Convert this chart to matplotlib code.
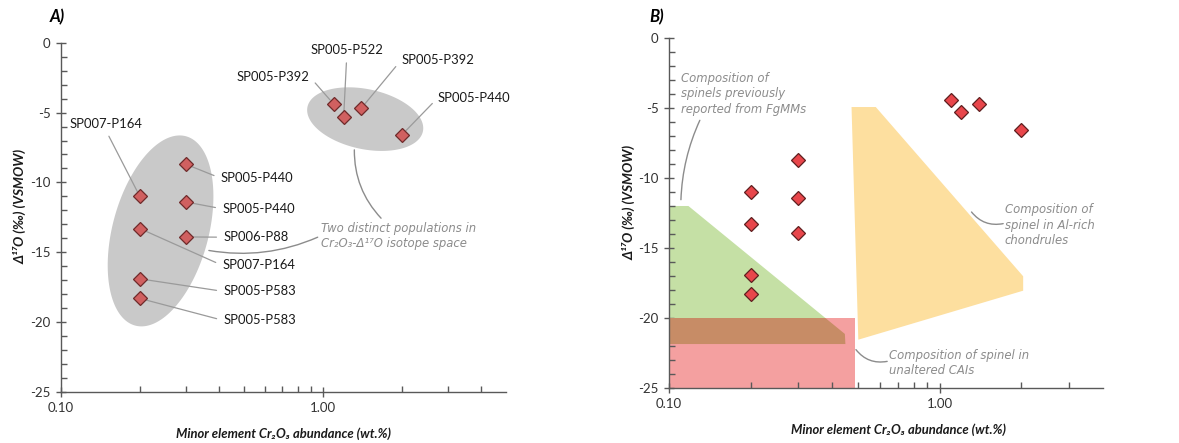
import numpy as np
import matplotlib
matplotlib.use("Agg")
import matplotlib.pyplot as plt
from matplotlib.ticker import FixedLocator, FuncFormatter, NullFormatter
from matplotlib.patches import Polygon, Rectangle

plt.rcParams["font.family"] = ["Lato", "DejaVu Sans"]
plt.rcParams["axes.unicode_minus"] = False

# Spinel grains: Cr2O3 content (wt.%) and Δ17O (‰, VSMOW)
cr2o3 = [0.2, 0.2, 0.2, 0.2, 0.3, 0.3, 0.3, 1.1, 1.2, 1.4, 2.0]
d17o = [-11.0, -13.3, -16.9, -18.3, -8.7, -11.4, -13.9, -4.4, -5.3, -4.7, -6.6]
grain_ids = ["SP007-P164", "SP007-P164", "SP005-P583", "SP005-P583",
             "SP005-P440", "SP005-P440", "SP006-P88",
             "SP005-P392", "SP005-P522", "SP005-P392", "SP005-P440"]

# Literature composition fields (Cr2O3 wt.%, Δ17O ‰)
fgmm_cr = [0.1, 0.118, 0.446, 0.448, 0.1]
fgmm_d17o = [-12.0, -12.0, -21.14, -21.86, -21.86]
chondrule_cr = [0.472, 0.58, 2.03, 2.03, 0.50]
chondrule_d17o = [-4.93, -4.93, -17.02, -18.05, -21.55]
cai_cr = [0.1, 0.485]
cai_d17o = [-25.0, -20.0]

# label placement for the grain ids (data coords, alignment)
label_pos = [(0.148, -5.8, "center"), (0.413, -15.94, "left"),
             (0.417, -17.8, "left"), (0.417, -19.88, "left"),
             (0.407, -9.7, "left"), (0.413, -11.89, "left"),
             (0.417, -13.92, "left"),
             (0.89, -2.43, "right"), (1.233, -0.52, "center"),
             (1.99, -1.24, "left"), (2.75, -3.93, "left")]

AX_COL = "#595959"
NOTE_COL = "#8c8c8c"
NOTE_FONT = dict(family="DejaVu Sans", style="italic", color=NOTE_COL, fontsize=8.4)


def style_axes(ax, xmax):
    ax.set_xscale("log")
    ax.set_xlim(0.1, xmax)
    ax.set_ylim(-25, 0)
    for s in ("top", "right"):
        ax.spines[s].set_visible(False)
    for s in ("left", "bottom"):
        ax.spines[s].set_color(AX_COL)
        ax.spines[s].set_linewidth(1.0)
    ax.xaxis.set_major_locator(FixedLocator([0.1, 1.0]))
    ax.xaxis.set_minor_locator(FixedLocator(
        [v for v in [0.2, 0.3, 0.4, 0.5, 0.6, 0.7, 0.8, 0.9, 2, 3, 4, 5] if v < xmax]))
    ax.xaxis.set_major_formatter(FuncFormatter(lambda v, p: f"{v:.2f}"))
    ax.xaxis.set_minor_formatter(NullFormatter())
    ax.yaxis.set_major_locator(FixedLocator(np.arange(-25, 1, 5)))
    ax.yaxis.set_minor_locator(FixedLocator(np.arange(-25, 1, 1)))
    ax.yaxis.set_major_formatter(FuncFormatter(lambda v, p: f"{v:.0f}"))
    ax.tick_params(which="major", direction="inout", length=7, width=1,
                   color=AX_COL, labelcolor="#333333", labelsize=9.5, pad=4)
    ax.tick_params(which="minor", direction="in", length=4, width=1, color=AX_COL)
    ax.set_xlabel("Minor element Cr₂O₃ abundance (wt.%)", fontsize=9.4,
                  fontweight="bold", style="italic", color="#1a1a1a")
    ax.set_ylabel("Δ¹⁷O (‰) (VSMOW)", fontsize=9.8,
                  fontweight="bold", style="italic", color="#1a1a1a")


def fill_ellipse(ax, centre, semi_major, semi_minor, angle, **kw):
    # ellipse defined in screen pixels so it stays round on the log axis
    cx, cy = ax.transData.transform(centre)
    t = np.linspace(0, 2 * np.pi, 240)
    a = np.deg2rad(angle)
    px = cx + semi_major * np.cos(t) * np.cos(a) - semi_minor * np.sin(t) * np.sin(a)
    py = cy + semi_major * np.cos(t) * np.sin(a) + semi_minor * np.sin(t) * np.cos(a)
    pts = ax.transData.inverted().transform(np.column_stack([px, py]))
    ax.fill(pts[:, 0], pts[:, 1], color="#c9c9c9", lw=0, zorder=1, **kw)


def connector(ax, start, end, rad):
    ax.annotate("", xy=end, xytext=start,
                arrowprops=dict(arrowstyle="-", color="#8c8c8c", lw=1.0,
                                connectionstyle=f"arc3,rad={rad}",
                                shrinkA=0, shrinkB=0))


fig = plt.figure(figsize=(11.79, 4.43), dpi=100)
ax_a = fig.add_axes([0.0517, 0.1151, 0.3775, 0.7885])
ax_b = fig.add_axes([0.5674, 0.1242, 0.3681, 0.7900])

# ---- panel A: grains grouped into two populations ----
style_axes(ax_a, 5.0)
fill_ellipse(ax_a, (0.24, -13.47), 98, 48, 75)
fill_ellipse(ax_a, (1.45, -5.47), 59, 30, -12)

for x, y, name, (tx, ty, ha) in zip(cr2o3, d17o, grain_ids, label_pos):
    rel = {"left": (0, 0.5), "right": (1, 0.5), "center": (0.5, 0)}[ha]
    ax_a.annotate(name, xy=(x, y), xytext=(tx, ty), ha=ha, va="center",
                  fontsize=9.4, color="#1a1a1a",
                  arrowprops=dict(arrowstyle="-", color="#9a9a9a", lw=0.9,
                                  relpos=rel, shrinkA=3, shrinkB=4))
ax_a.plot(cr2o3, d17o, "D", ms=6.8, mfc="#d06060", mec="#6e2a2a", mew=0.9,
          ls="none", zorder=5)

ax_a.text(0.98, -13.85, "Two distinct populations in\nCr₂O₃-Δ¹⁷O isotope space",
          ha="left", va="center", linespacing=1.15, **NOTE_FONT)
connector(ax_a, (1.318, -7.67), (1.667, -12.56), 0.2)
connector(ax_a, (0.367, -14.87), (0.955, -13.92), 0.15)

ax_a.yaxis.set_label_coords(-0.078, 0.53)
ax_a.xaxis.set_label_coords(0.5, -0.1)
fig.text(0.042, 0.962, "A)", fontsize=12, fontweight="bold", style="italic",
         va="center")

# ---- panel B: grains against literature composition fields ----
style_axes(ax_b, 4.0)
green = Polygon(np.column_stack([fgmm_cr, fgmm_d17o]), closed=True,
                fc="#c5e0a5", ec="none", zorder=1)
ax_b.add_patch(green)
cai = Rectangle((cai_cr[0], cai_d17o[0]), cai_cr[1] - cai_cr[0],
                cai_d17o[1] - cai_d17o[0], fc="#f4a0a0", ec="none", zorder=1)
ax_b.add_patch(cai)
overlap = Polygon(np.column_stack([fgmm_cr, fgmm_d17o]), closed=True,
                  fc="#c78c66", ec="none", zorder=2)
ax_b.add_patch(overlap)
overlap.set_clip_path(cai)
ax_b.add_patch(Polygon(np.column_stack([chondrule_cr, chondrule_d17o]),
                       closed=True, fc="#fddf9f", ec="none", zorder=1))

ax_b.plot(cr2o3, d17o, "D", ms=6.8, mfc="#e8464b", mec="#5e1f1f", mew=0.9,
          ls="none", zorder=5)

ax_b.text(0.1107, -3.98, "Composition of\nspinels previously\nreported from FgMMs",
          ha="left", va="center", linespacing=1.25, **NOTE_FONT)
connector(ax_b, (0.13, -5.88), (0.1107, -11.55), 0.1)
ax_b.text(1.738, -13.36, "Composition of\nspinel in Al-rich\nchondrules",
          ha="left", va="center", linespacing=1.25, **NOTE_FONT)
connector(ax_b, (1.309, -12.43), (1.713, -13.26), 0.3)
ax_b.text(0.648, -23.21, "Composition of spinel in\nunaltered CAIs",
          ha="left", va="center", linespacing=1.25, **NOTE_FONT)
connector(ax_b, (0.490, -22.26), (0.639, -23.1), 0.3)

ax_b.yaxis.set_label_coords(-0.078, 0.53)
ax_b.xaxis.set_label_coords(0.53, -0.1)
fig.text(0.551, 0.962, "B)", fontsize=12, fontweight="bold", style="italic",
         va="center")

fig.savefig("out.png", dpi=100)
